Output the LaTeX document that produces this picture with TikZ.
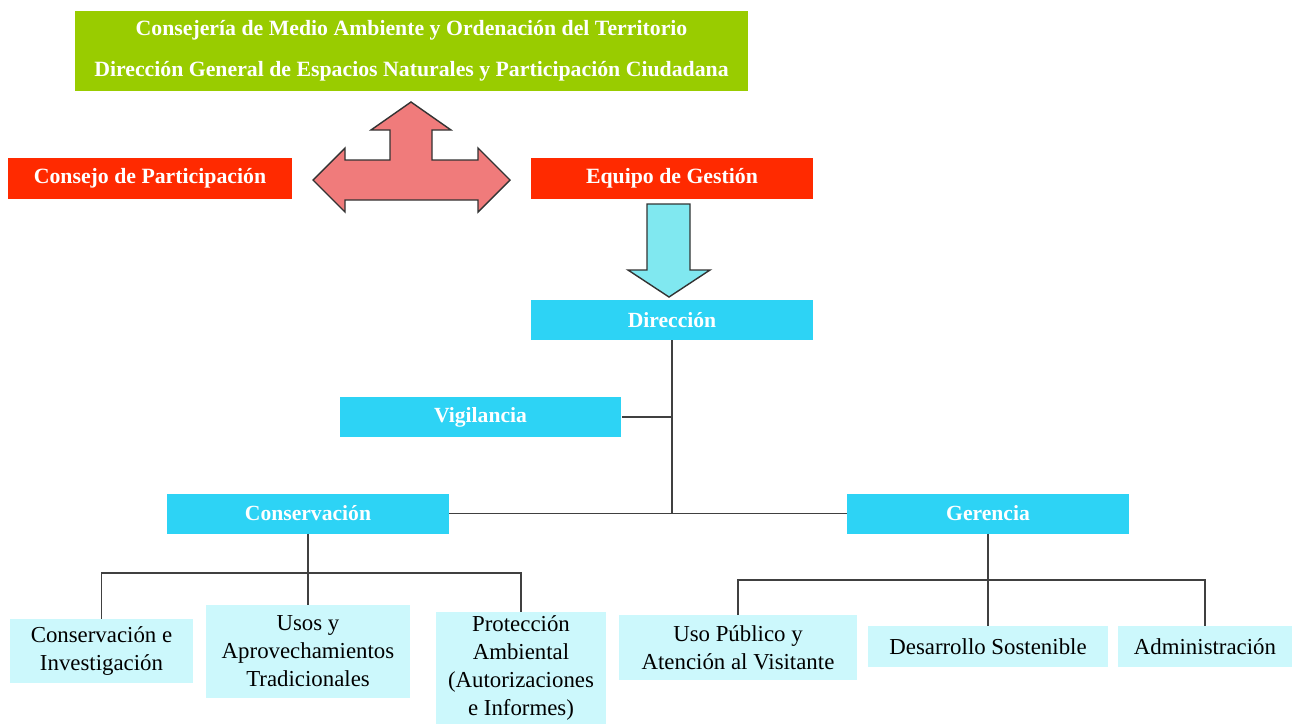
\documentclass[tikz,border=0pt]{standalone}
\usepackage{fontspec}
\setmainfont{Liberation Serif}
\usepackage{tikz}
\usetikzlibrary{arrows}

\definecolor{verdehoja}{HTML}{99CC00}
\definecolor{rojovivo}{HTML}{FF2A00}
\definecolor{celeste}{HTML}{2DD3F5}
\definecolor{celestepalido}{HTML}{CCF8FC}
\definecolor{rosaflecha}{HTML}{F07B7B}
\definecolor{aguaflecha}{HTML}{80E8F0}

\begin{document}
\begin{tikzpicture}[x=0.02cm,y=-0.02cm,
		caja/.style={inner sep=0pt,align=center},
		cabecera/.style={caja,fill=verdehoja,text=white,font=\bfseries\fontsize{12.4}{23.3}\selectfont,minimum width=13.46cm,minimum height=1.6cm},
		organo/.style={caja,fill=rojovivo,text=white,font=\bfseries\fontsize{12.4}{14}\selectfont,minimum height=0.82cm},
		area/.style={caja,fill=celeste,text=white,font=\bfseries\fontsize{12.3}{14}\selectfont,minimum width=5.64cm,minimum height=0.8cm},
		seccion/.style={caja,fill=celestepalido,text=black,font=\fontsize{13}{16}\selectfont},
		enlace/.style={draw=black!75,line width=0.8pt}]
		\useasboundingbox (0,0) rectangle (1292,724);
%		\draw[help lines,step=50] (0,0) grid (1292,724);

		\node[cabecera] (consejeria) at (411.5,51)
			{Consejería de Medio Ambiente y Ordenación del Territorio\\
			Dirección General de Espacios Naturales y Participación Ciudadana};
		\node[organo,minimum width=5.68cm] (consejo) at (150,178.5) {Consejo de Participación};
		\node[organo,minimum width=5.64cm] (equipo) at (672,178.5) {Equipo de Gestión};

		\node[area] (direccion) at (672,320) {Dirección};
		\node[area] (vigilancia) at (480.5,417) {Vigilancia};
		\node[area] (conservacion) at (308,513.5) {Conservación};
		\node[area] (gerencia) at (988,513.5) {Gerencia};

		\node[seccion,minimum width=3.66cm,minimum height=1.28cm] (consinv) at (101.5,651)
			{Conservación e\\Investigación};
		\node[seccion,minimum width=4.08cm,minimum height=1.86cm] (usos) at (308,651.5)
			{Usos y\\Aprovechamientos\\Tradicionales};
		\node[seccion,minimum width=3.4cm,minimum height=2.24cm] (proteccion) at (521,668)
			{Protección\\Ambiental\\(Autorizaciones\\e Informes)};
		\node[seccion,minimum width=4.76cm,minimum height=1.3cm] (usopublico) at (738,647.5)
			{Uso Público y\\Atención al Visitante};
		\node[seccion,minimum width=4.8cm,minimum height=0.82cm] (desarrollo) at (988,646.5)
			{Desarrollo Sostenible};
		\node[seccion,minimum width=3.48cm,minimum height=0.82cm] (administracion) at (1205,646.5)
			{Administración};

		% flecha de tres puntas
		\draw[fill=rosaflecha,draw=black!80,line width=0.8pt,line join=miter]
			(411,102) -- (451,130) -- (432,130) -- (432,160) -- (478,160) -- (478,148)
			-- (510,180) -- (478,212) -- (478,200) -- (345,200) -- (345,212)
			-- (313,180) -- (345,148) -- (345,160) -- (390,160) -- (390,130)
			-- (371,130) -- cycle;
		% flecha hacia la direccion
		\draw[fill=aguaflecha,draw=black!80,line width=0.8pt]
			(647,204) -- (690,204) -- (690,270) -- (710,270) -- (669,297)
			-- (628,270) -- (647,270) -- cycle;

		\path (conservacion.east -| direccion.south) coordinate (nudo);
		\path (308,573) coordinate (busconservacion);
		\path (988,580) coordinate (busgerencia);

		\draw[enlace] (direccion.south) -- (nudo);
		\draw[enlace] (vigilancia.east) -- (vigilancia.east -| nudo);
		\draw[enlace] (conservacion.east) -- (gerencia.west);

		\draw[enlace] (conservacion.south) -- (usos.north);
		\draw[enlace] (consinv.north) |- (busconservacion) -| (proteccion.north);

		\draw[enlace] (gerencia.south) -- (desarrollo.north);
		\draw[enlace] (usopublico.north) |- (busgerencia) -| (administracion.north);
	\end{tikzpicture}
\end{document}
